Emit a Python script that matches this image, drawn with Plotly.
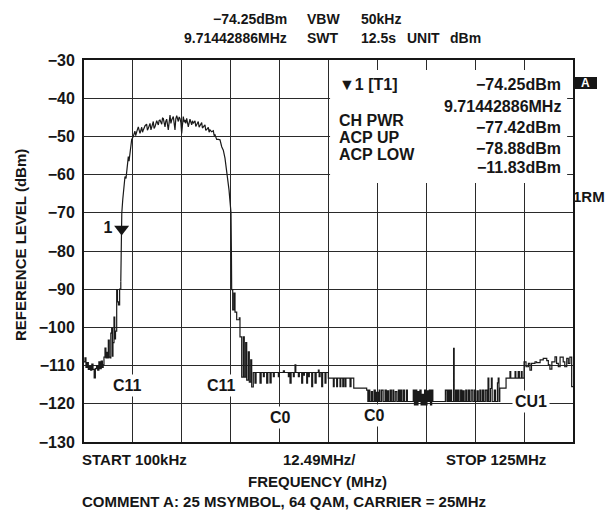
import plotly.graph_objects as go

# ---------------- data (MHz, dBm) ----------------
left_freq = [0.1, 0.35, 0.6, 0.9, 1.2, 1.5, 1.8, 2.1, 2.4, 2.7, 3.0, 3.3, 3.6, 3.9, 4.2, 4.5, 4.8, 5.0,
             5.2, 5.46, 5.7, 5.9, 6.1, 6.31, 6.55, 6.74, 6.95, 7.17, 7.35, 7.5, 7.76, 7.95, 8.15, 8.45,
             8.65, 8.9, 9.2, 9.5]
left_level = [-109.0, -108.0, -110.5, -109.2, -111.0, -110.2, -111.2, -109.6, -111.0, -113.2, -110.8,
              -110.0, -111.2, -109.0, -110.8, -108.8, -110.5, -109.8,
              -107.8, -105.4, -108.0, -106.5, -108.0, -103.3, -107.8, -108.0, -101.5, -100.2, -107.5,
              -104.0, -97.3, -103.0, -101.0, -90.2, -93.3, -94.1, -90.0, -88.0]

lobe_freq = [9.5, 9.55, 9.62, 9.75, 10.0, 10.3, 10.57, 10.83, 11.1, 11.42, 11.6, 11.85, 12.05, 12.28,
             12.5, 12.69, 13.1, 13.3, 13.56, 13.97, 14.2, 14.4, 14.84, 15.05, 15.25, 15.7, 16.1, 16.3,
             16.52, 16.96, 17.2, 17.39, 17.8, 18.0, 18.23, 18.67, 19.08, 19.3, 19.51, 19.95, 20.15,
             20.35, 20.79, 21.0, 21.22, 21.63, 21.85, 22.07, 22.3, 22.5, 22.91, 23.1, 23.34, 23.55,
             23.78, 24.19, 24.4, 24.62, 24.85, 25.05, 25.25, 25.46, 25.7, 25.9, 26.1, 26.33, 26.74,
             26.95, 27.17, 27.61, 27.8, 28.02, 28.45, 28.65, 28.89, 29.29, 29.5, 29.73, 30.16, 30.35,
             30.57, 31.0, 31.2, 31.44, 31.85, 32.05, 32.28, 32.72, 33.13, 33.35, 33.56, 33.99, 34.4,
             34.84, 35.27, 35.68, 36.11, 36.55, 36.96, 37.14, 37.39, 37.65, 37.75, 37.82]
lobe_level = [-88.0, -80.0, -72.5, -70.1, -66.5, -63.0, -60.5, -61.0, -57.5, -55.3, -56.5, -53.6, -53.0,
              -50.8, -50.4, -50.0, -48.6, -49.8, -48.8, -47.5, -48.4, -49.2, -47.6, -48.9, -48.3,
              -47.2, -46.8, -48.4, -47.9, -46.6, -48.3, -47.5, -46.1, -47.9, -47.5, -45.9, -47.0,
              -45.8, -45.7, -46.8, -45.2, -45.3, -47.5, -46.0, -45.5, -48.3, -45.9, -44.4, -46.6,
              -45.7, -44.8, -46.2, -48.3, -45.4, -44.6, -46.1, -44.9, -45.3, -46.4, -49.2, -45.6,
              -44.8, -46.3, -45.7, -46.6, -45.3, -47.5, -45.8, -45.5, -47.0, -45.9, -46.6, -45.9,
              -47.4, -47.0, -46.1, -47.6, -47.0, -46.4, -47.8, -47.5, -47.0, -48.4, -48.2, -47.6,
              -48.9, -48.3, -48.8, -48.5, -49.8, -49.6, -50.8, -50.8, -50.9, -52.7, -53.6, -55.7,
              -58.8, -61.4, -64.0, -67.0, -70.0, -80.0, -90.2]

right_freq = [37.82, 38.08, 38.41, 38.67, 39.10, 39.77, 39.94, 40.38, 40.79, 41.04, 41.40, 41.66, 42.07,
              42.32, 42.68, 42.93, 43.34, 43.78, 44.05, 45.06, 45.35, 45.91, 46.15, 46.76, 47.05, 47.61,
              47.9, 48.46, 48.7, 49.74, 50.0, 51.02, 51.3, 52.3, 52.5, 52.72, 53.0, 53.57, 53.8, 54.0,
              54.2, 54.85, 55.1, 55.7, 55.95, 56.13, 56.4, 56.98, 57.2, 57.4, 57.65, 58.26, 58.5, 59.11,
              59.4, 59.96, 60.15, 60.4, 60.81, 61.05, 61.66, 61.9, 62.51, 63.79, 64.0, 64.64, 64.85,
              65.49, 65.7, 66.2, 66.4, 66.77, 67.0, 68.05, 68.3, 69.0,
              72.3, 72.6, 72.9, 73.1, 73.5, 73.8, 74.2, 74.5, 74.8, 75.2, 75.5, 75.7, 76.1, 76.5, 77.0,
              77.3, 77.6, 77.9, 78.3, 78.6, 79.0, 79.2, 79.6, 80.0, 80.4, 80.7, 81.0, 81.3, 81.7, 82.0,
              82.5, 82.7, 84.2, 84.5, 84.8, 85.1, 85.4, 85.6, 85.9, 86.2, 86.5, 86.8, 87.1, 87.4, 87.7,
              88.0, 88.3, 88.6, 88.9, 89.2, 92.4, 92.8, 93.1, 93.4, 93.7, 94.0, 94.5, 94.65, 95.0, 95.3,
              95.6, 95.9, 96.3, 96.6, 96.9, 97.2, 97.6, 97.9, 98.3, 98.6, 99.0, 99.4, 99.8, 100.1, 100.5,
              100.8, 101.2, 101.5, 101.9, 102.2, 102.6, 103.0, 103.3, 103.5, 103.9, 104.15, 104.35,
              104.9, 105.2, 105.7, 105.9, 106.1, 106.3, 107.9, 108.9, 109.1, 110.2, 110.4, 111.0, 111.3,
              111.8, 112.0, 112.5, 113.0, 113.6, 114.0, 114.4, 115.3, 115.7, 116.6, 117.4, 118.3, 118.7,
              119.1, 119.6, 120.4, 120.8, 121.25, 121.7, 122.5, 122.9, 123.4, 123.8, 124.2, 124.66, 125.0]
right_level = [-90.2, -95.4, -91.0, -96.0, -98.0, -97.5, -102.5, -113.0, -102.5, -113.0, -104.0, -113.8,
               -106.4, -114.3, -108.5, -115.6, -111.8, -114.6, -111.8, -114.6, -111.8, -112.9, -111.8,
               -114.6, -111.8, -114.5, -111.8, -112.9, -111.8, -112.9, -111.8, -111.4, -111.8, -112.9,
               -111.8, -114.6, -111.8, -112.9, -111.8, -109.8, -111.8, -112.9, -111.8, -114.6, -111.8,
               -112.5, -111.8, -114.6, -111.8, -112.9, -111.8, -115.5, -111.8, -114.6, -111.8, -111.2,
               -112.9, -111.8, -115.5, -111.8, -114.6, -111.8, -113.3, -115.5, -113.3, -115.5, -113.3,
               -115.5, -113.3, -115.5, -113.3, -115.5, -113.3, -115.5, -113.3, -115.9,
               -116.4, -119.4, -116.4, -119.4, -116.8, -119.4, -116.4, -119.4, -117.0, -119.4, -116.4,
               -119.4, -116.4, -119.4, -116.4, -119.4, -116.6, -119.4, -116.4, -119.4, -116.4, -119.4,
               -116.8, -119.4, -116.4, -119.4, -116.4, -119.4, -116.4, -119.4, -116.4, -119.4,
               -116.4, -120.3, -116.4, -120.3, -116.8, -119.4, -116.4, -120.3, -117.5, -120.3, -116.4,
               -120.3, -116.6, -119.4, -116.4, -120.3, -116.4, -119.4, -116.4, -119.4, -116.4, -119.4,
               -116.4, -119.4, -105.5, -119.4, -116.4, -119.4, -116.4, -119.4, -116.4, -119.4, -116.6,
               -119.4, -116.4, -119.4, -116.4, -119.4, -116.4, -119.4, -116.4, -119.4, -116.6, -119.4,
               -116.4, -119.4, -116.4, -119.4, -116.4, -119.4, -113.3, -119.4, -116.0, -113.3, -119.4,
               -116.4, -119.4, -114.5, -113.3, -119.4, -115.9, -113.3, -111.6, -113.3, -111.6, -113.3,
               -111.6, -113.3, -111.6, -113.3, -109.0, -110.3, -109.4, -111.2, -109.4, -109.0, -109.2,
               -108.5, -108.1, -108.7, -109.8, -110.9, -109.0, -107.7, -109.4, -110.3, -107.8, -109.0,
               -110.3, -108.1, -109.4, -107.8, -115.5, -115.5]

marker_freq = [9.71442886]
marker_level = [-74.25]

y_tick_vals = [-130, -120, -110, -100, -90, -80, -70, -60, -50, -40, -30]
y_tick_text = ["−130", "−120", "−110", "−100", "−90", "−80", "−70", "−60", "−50", "−40", "−30"]

channel_labels = ["C11", "C11", "C0", "C0", "CU1"]
channel_label_freq = [11.3, 35.1, 50.4, 74.4, 114.3]
channel_label_level = [-115.3, -115.3, -123.5, -123.0, -119.5]

info_names = ["CH PWR", "ACP UP", "ACP LOW"]
info_values = ["−74.25dBm", "9.71442886MHz", "−77.42dBm", "−78.88dBm", "−11.83dBm"]

# ---------------- figure ----------------
FONT = "Liberation Sans, Arial, Helvetica, sans-serif"
INK = "#161616"
TRACE = dict(color="#1a1a1a", width=1.2)

fig = go.Figure()
fig.add_trace(go.Scatter(x=left_freq, y=left_level, mode="lines",
                         line=dict(**TRACE, shape="hv"), showlegend=False, hoverinfo="skip"))
fig.add_trace(go.Scatter(x=lobe_freq, y=lobe_level, mode="lines",
                         line=dict(**TRACE, shape="linear"), showlegend=False, hoverinfo="skip"))
fig.add_trace(go.Scatter(x=right_freq, y=right_level, mode="lines",
                         line=dict(**TRACE, shape="hv"), showlegend=False, hoverinfo="skip"))
fig.add_trace(go.Scatter(x=marker_freq, y=marker_level, mode="markers+text", text=["1"],
                         textposition="middle left",
                         textfont=dict(family=FONT, size=16, color=INK, weight="bold"),
                         marker=dict(symbol="triangle-down", size=13, color=INK),
                         showlegend=False, hoverinfo="skip"))

annotations = []


def txt(text, x, y, xanchor="left", size=15, color=INK, **kw):
    annotations.append(dict(text=text, x=x, y=y, xref="paper", yref="paper",
                            xanchor=xanchor, yanchor="middle", showarrow=False,
                            font=dict(family=FONT, size=size, color=color, weight="bold"), **kw))


# top header
txt("−74.25dBm", 0.4192, 1.1073, "right", 14)
txt("9.71442886MHz", 0.4192, 1.0576, "right", 14)
txt("VBW", 0.452, 1.1073, "left", 14)
txt("SWT", 0.452, 1.0576, "left", 14)
txt("50kHz", 0.5624, 1.1073, "left", 14)
txt("12.5s", 0.5624, 1.0576, "left", 14)
txt("UNIT", 0.6564, 1.0576, "left", 14)
txt("dBm", 0.7444, 1.0576, "left", 14)

# marker info box
txt("▼1 [T1]", 0.5174, 0.9346, "left", 16)
for name, yy in zip(info_names, [0.8429, 0.7984, 0.7539]):
    txt(name, 0.5174, yy, "left", 16)
for val, yy in zip(info_values, [0.9346, 0.8770, 0.8220, 0.7696, 0.7173]):
    txt(val, 0.9796, yy, "right", 16)

# right side
txt("A", 1.0265, 0.9398, "center", 12, color="white")
txt("1RM", 0.998, 0.6414, "left", 15, borderpad=0)

# bottom texts
txt("START 100kHz", -0.0082, -0.0471, "left", 15)
txt("12.49MHz/", 0.4806, -0.0471, "center", 15)
txt("STOP 125MHz", 0.9489, -0.0471, "right", 15)
txt("FREQUENCY (MHz)", 0.4765, -0.1021, "center", 15)
txt("COMMENT A: 25 MSYMBOL, 64 QAM, CARRIER = 25MHz", -0.0082, -0.157, "left", 15)

# y title
txt("REFERENCE LEVEL (dBm)", -0.1309, 0.5157, "center", 15, textangle=-90)

# channel labels on the grid
for lab, fx, ly in zip(channel_labels, channel_label_freq, channel_label_level):
    annotations.append(dict(text=lab, x=fx, y=ly, xref="x", yref="y", xanchor="center",
                            yanchor="middle", showarrow=False, bgcolor="white", borderpad=2,
                            font=dict(family=FONT, size=16, color=INK, weight="bold")))

shapes = [
    dict(type="rect", xref="x", yref="y", x0=62.95, x1=123.5, y0=-62.2, y1=-32.6,
         fillcolor="white", line=dict(width=0), layer="between"),
    dict(type="rect", xref="paper", yref="paper", x0=1.0041, x1=1.0491, y0=0.9241, y1=0.9555,
         fillcolor=INK, line=dict(width=0)),
]

# the page body adds an 8px offset, so the figure is 8px smaller on each axis
fig.update_layout(
    width=607, height=508,
    margin=dict(l=76, r=42, t=52, b=74),
    paper_bgcolor="white", plot_bgcolor="white",
    font=dict(family=FONT, color=INK),
    annotations=annotations, shapes=shapes,
    xaxis=dict(range=[0.1, 125], tick0=0.1, dtick=12.49, showticklabels=False,
               showgrid=True, gridcolor="#2a2a2a", gridwidth=1.3, zeroline=False,
               showline=True, linecolor=INK, linewidth=2, mirror=True, ticks=""),
    yaxis=dict(range=[-130, -30], tickvals=y_tick_vals, ticktext=y_tick_text,
               tickfont=dict(family=FONT, size=16, color=INK, weight="bold"),
               showgrid=True, gridcolor="#2a2a2a", gridwidth=1.3, zeroline=False,
               showline=True, linecolor=INK, linewidth=2, mirror=True, ticks="",
               ticklabelstandoff=4),
)

fig.write_html("out.html")
